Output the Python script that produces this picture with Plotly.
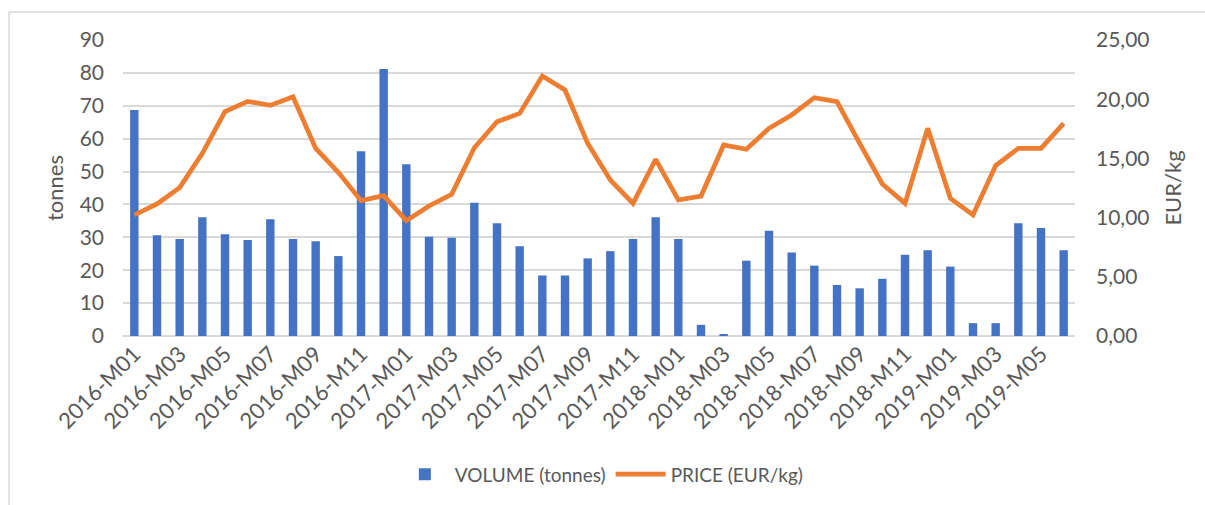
import plotly.graph_objects as go

months = []
for y in (2016, 2017, 2018, 2019):
    for m in range(1, 13):
        if y == 2019 and m > 6:
            break
        months.append(f"{y}-M{m:02d}")

volume = [68.7, 30.6, 29.5, 36.1, 30.9, 29.2, 35.5, 29.5, 28.8, 24.3, 56.2, 81.2,
          52.2, 30.2, 29.9, 40.5, 34.3, 27.3, 18.4, 18.4, 23.6, 25.8, 29.5, 36.1,
          29.5, 3.4, 0.6, 22.9, 32.0, 25.4, 21.4, 15.5, 14.5, 17.4, 24.7, 26.1,
          21.1, 3.9, 3.9, 34.3, 32.8, 26.1]

price = [10.22, 11.15, 12.53, 15.43, 18.95, 19.82, 19.48, 20.21, 15.85, 13.82, 11.43, 11.85,
         9.74, 10.98, 11.96, 15.90, 18.10, 18.80, 21.96, 20.78, 16.27, 13.18, 11.20, 14.92,
         11.49, 11.82, 16.13, 15.77, 17.54, 18.67, 20.13, 19.79, 16.27, 12.84, 11.20, 17.54,
         11.63, 10.22, 14.39, 15.85, 15.85, 17.96]

tick_labels = months[::2]

TXT = "#595959"
FONT = "Lato"

fig = go.Figure()
fig.add_trace(go.Bar(x=months, y=volume, name="VOLUME (tonnes)",
                     marker=dict(color="#4472C4", line=dict(width=0)),
                     width=0.37, yaxis="y"))
fig.add_trace(go.Scatter(x=months, y=price, name="PRICE (EUR/kg)", mode="lines",
                         line=dict(color="#ED7D31", width=4.7), yaxis="y2"))

fig.update_layout(
    width=1205, height=505,
    margin=dict(l=123, r=130, t=40, b=169, autoexpand=False),
    paper_bgcolor="white", plot_bgcolor="white",
    separators=",.",
    font=dict(family=FONT, size=19, color=TXT),
    showlegend=True,
    legend=dict(orientation="h", x=0.503, xanchor="center", y=-0.403, yanchor="top",
                font=dict(size=19, color=TXT), itemwidth=50),
    xaxis=dict(type="category", tickvals=tick_labels, ticktext=tick_labels,
               tickangle=-45, showgrid=False, showline=False, ticks="", automargin=False,
               range=[-0.5, len(months) - 0.5], tickfont=dict(size=22, color=TXT)),
    yaxis=dict(range=[0, 90], dtick=10, showgrid=True, gridcolor="#D9D9D9", gridwidth=1.5,
               zeroline=True, zerolinecolor="#D9D9D9", zerolinewidth=1.5,
               ticks="", ticklabelstandoff=18, automargin=False,
               title=dict(text="tonnes", standoff=9, font=dict(size=22, color=TXT)),
               tickfont=dict(size=21, color=TXT)),
    yaxis2=dict(range=[0, 25], dtick=5, tickformat=".2f", overlaying="y", side="right",
                showgrid=False, zeroline=False, ticks="", ticklabelstandoff=20, automargin=False,
                title=dict(text="EUR/kg", standoff=17, font=dict(size=22, color=TXT)),
                tickfont=dict(size=21, color=TXT)),
    bargap=0.6,
    shapes=[
        dict(type="line", xref="paper", yref="paper",
             x0=(9 - 123) / 952, x1=(9 - 123) / 952, y0=(336 - 12) / 296, y1=-2,
             line=dict(color="#D9D9D9", width=1.5)),
        dict(type="line", xref="paper", yref="paper",
             x0=(9 - 123) / 952, x1=2, y0=(336 - 12) / 296, y1=(336 - 12) / 296,
             line=dict(color="#D9D9D9", width=1.5)),
    ],
)

fig.write_html("out.html", config={"displayModeBar": False},
               post_script="document.body.style.margin='0';document.body.style.overflow='hidden';")
